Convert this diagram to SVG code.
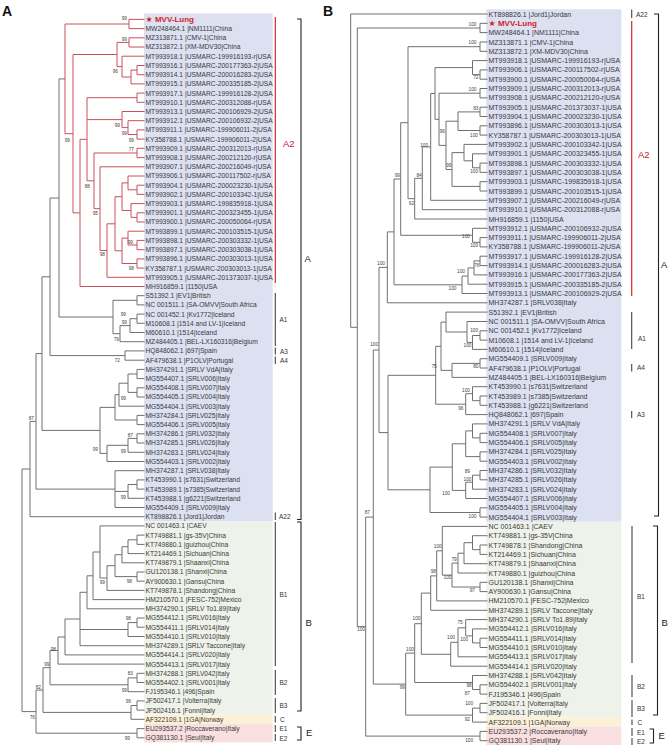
<svg xmlns="http://www.w3.org/2000/svg" width="669" height="745" viewBox="0 0 669 745">
<style>
.t{font-family:"Liberation Sans","DejaVu Sans",Arial,sans-serif;fill:#3a3a3a}
.la{font-size:6.7px}
.lb{font-size:7px}
.bs{font-family:"Liberation Sans",Arial,sans-serif;font-size:4.8px;fill:#444;text-anchor:end}
.g{fill:none;stroke:#707070;stroke-width:1}
.r{fill:none;stroke:#c9505d;stroke-width:1}
.bar{stroke:#444;stroke-width:1.1}
.rbar{stroke:#d42a2a;stroke-width:1.2}
.brk{fill:none;stroke:#222;stroke-width:1.1}
.cl{font-family:"Liberation Sans",Arial,sans-serif;font-size:6.5px;fill:#333}
.big{font-family:"Liberation Sans",Arial,sans-serif;font-size:9.5px;fill:#222}
.red{fill:#c0202a}
.mvv{font-family:"Liberation Sans","DejaVu Sans",sans-serif;font-size:8px;font-weight:bold;fill:#d3202a}
.pl{font-family:"Liberation Sans",Arial,sans-serif;font-size:14px;font-weight:bold;fill:#111}
</style>
<rect width="669" height="745" fill="#fff"/>
<g id="backgrounds">
<rect x="144" y="13.5" width="128.7" height="508" fill="#dce0f1"/>
<rect x="144" y="521.5" width="128.7" height="193.2" fill="#eef2ea"/>
<rect x="144" y="714.7" width="128.7" height="9.2" fill="#fcf1d7"/>
<rect x="144" y="723.9" width="128.7" height="18.5" fill="#f9dfe0"/>
<rect x="486.3" y="9.3" width="135" height="512.5" fill="#dce0f1"/>
<rect x="486.3" y="521.8" width="135" height="195.6" fill="#eef2ea"/>
<rect x="486.3" y="717.4" width="135" height="9.3" fill="#fcf1d7"/>
<rect x="486.3" y="726.7" width="135" height="18.3" fill="#f9dfe0"/>
</g>
<text class="pl" x="2" y="15.5">A</text>
<text class="pl" x="323" y="15.5">B</text>
<g id="connectors">
<path class="r" d="M144.5 19.4H129V28.6H144.5M144.5 37.8H129V47H144.5M144.5 65.5H137V74.7H144.5M137 70.1H131V83.9H144.5M144.5 56.2H122V77H131M129 42.4H117V66.6H122M144.5 93.1H137V102.3H144.5M144.5 129.9H137V139.1H144.5M144.5 120.7H128V134.5H137M144.5 111.5H122V127.6H128M144.5 148.3H137V157.6H144.5M144.5 185.2H137V194.4H144.5M144.5 176H128V189.8H137M144.5 212.8H137V222H144.5M144.5 203.6H131V217.4H137M128 182.9H122V210.5H131M144.5 240.4H137V249.7H144.5M144.5 231.2H128V245H137M144.5 258.9H137V268.1H144.5M128 238.1H122V263.5H137M122 196.7H115V250.8H122M115 223.8H107V277.3H144.5M144.5 166.8H100V250.5H107M137 153H94V208.7H100M137 97.7H87V180.8H94M87 119.6H122M87 139.3H80V286.5H144.5M117 54.5H73V212.9H80M129 24H65V133.7H73"/>
<path class="g" d="M144.5 295.7H137V304.9H144.5M144.5 314.1H137V323.3H144.5M137 318.7H130V332.5H144.5M130 325.6H120V341.7H144.5M137 300.3H113V333.7H120M65 78.9H59V317H113M144.5 350.9H125V360.2H144.5M59 198H50V355.6H125M144.5 369.4H137V378.6H144.5M144.5 387.8H137V397H144.5M137 374H128V392.4H137M128 383.2H119V406.2H144.5M144.5 415.4H137V424.6H144.5M119 394.7H115V420H137M144.5 433.8H137V443H144.5M137 438.4H128V452.3H144.5M128 445.3H107V461.5H144.5M115 407.4H100V453.4H107M50 276.8H42V430.4H100M144.5 479.9H137V489.1H144.5M137 484.5H128V498.3H144.5M144.5 470.7H115V507.5H144.5M115 491.4H128M42 353.6H36V489.1H115M36 421.4H30V516.7H144.5"/>
<path class="g" d="M144.5 535.1H137V544.4H144.5M137 539.8H128V553.6H144.5M128 546.7H122V562.8H144.5M144.5 572H137V581.2H144.5M122 554.7H115V576.6H137M115 565.7H107V590.4H144.5M144.5 525.9H100V578H107M100 552H93V599.6H144.5M93 575.8H87V608.8H144.5M144.5 618H137V627.2H144.5M137 622.6H128V636.5H144.5M87 592.3H80V645.7H144.5M80 629.5H128M80 619H65V654.9H144.5M65 637H58V664.1H144.5M144.5 673.3H137V682.5H144.5M137 677.9H128V691.7H144.5M58 650.5H50V684.8H128M144.5 700.9H137V710.1H144.5M137 705.5H131V719.3H144.5M50 667.7H43V712.4H131M144.5 728.6H137V737.8H144.5M43 690.1H36V733.2H137M30 469H22V711.6H36"/>
<path class="g" d="M487.5 23.3H480V32.6H487.5M487.5 42H480V51.3H487.5M487.5 69.9H480V79.2H487.5M487.5 60.6H472.5V74.6H480M487.5 88.5H480V97.9H487.5M487.5 107.2H480V116.5H487.5M487.5 125.8H480V135.1H487.5M480 111.9H458V130.5H480M487.5 163.1H480V172.4H487.5M487.5 153.8H472.5V167.8H480M487.5 144.4H464V160.8H472.5M487.5 181.7H480V191H487.5M464 152.6H452V186.4H480M458 121.2H446V169.5H452M480 93.2H439V145.4H446M472.5 67.6H435V119.3H439M435 93.5H430.7V200.3H487.5M430.7 146.9H422.3V209.7H487.5M422.3 178.3H414.7V219H487.5M480 46.7H408V198.7H414.7M487.5 237.6H480V246.9H487.5M487.5 228.3H472.5V242.3H480M408 122.7H400.7V235.3H472.5M487.5 256.2H480V265.6H487.5M480 260.9H474V274.9H487.5M474 267.9H468V284.2H487.5M468 276.1H462V293.5H487.5M400.7 179H394V284.8H462M394 231.9H387.3V302.8H487.5"/>
<path class="g" d="M487.5 330.8H480V340.1H487.5M480 335.5H472.5V349.4H487.5M487.5 321.5H467V342.4H472.5M487.5 312.1H446V332H467M487.5 358.7H480V368H487.5M480 363.4H452V377.4H487.5M446 322.1H441V370.4H452M487.5 396H480V405.3H487.5M487.5 386.7H472.5V400.7H480M472.5 393.7H465.7V414.6H487.5M441 346.3H435.7V404.2H465.7M487.5 433.3H480V442.6H487.5M487.5 423.9H472.5V437.9H480M487.5 451.9H480V461.2H487.5M472.5 430.9H465.7V456.6H480M487.5 470.5H480V479.8H487.5M480 475.2H472.5V489.2H487.5M472.5 482.2H465.7V498.5H487.5M465.7 443.8H452.3V490.4H465.7M487.5 507.8H480V517.1H487.5M452.3 467.1H430V512.5H480M435.7 375.3H388V489.8H430M387.3 267.4H379V432.6H388"/>
<path class="g" d="M487.5 545H480V554.4H487.5M487.5 535.7H472.5V549.7H480M472.5 542.7H464V563.7H487.5M464 553.2H458V573H487.5M487.5 582.3H480V591.6H487.5M458 563.1H452V587H480M487.5 526.4H442.3V575.1H452M442.3 550.8H436.7V600.9H487.5M436.7 575.9H430.7V610.3H487.5M487.5 638.2H480V647.5H487.5M487.5 628.9H472.5V642.9H480M487.5 619.6H465.7V635.9H472.5M465.7 627.8H458V656.8H487.5M458 642.3H450.7V666.2H487.5M430.7 593.1H421.3V654.3H450.7M487.5 684.8H480V694.1H487.5M487.5 675.5H472.5V689.5H480M421.3 623.7H414.7V682.5H472.5M487.5 703.4H480V712.7H487.5M480 708.1H472.5V722.1H487.5M414.7 653.1H405.7V715.1H472.5M379 350H373.3V684.1H405.7M487.5 731.4H480V740.7H487.5M373.3 517.1H365.7V736.1H480M480 28H357.3V626.6H365.7M487.5 14H350.7V327.3H357.3"/>
</g>
<g id="support-A">
<text class="bs" x="127" y="19.7">99</text><text class="bs" x="127" y="40.7">99</text><text class="bs" x="118" y="72.7">96</text><text class="bs" x="70" y="141.7">99</text><text class="bs" x="120" y="127.2">99</text><text class="bs" x="127" y="134.7">99</text><text class="bs" x="134" y="141.7">99</text><text class="bs" x="134" y="150.7">77</text><text class="bs" x="90" y="187.7">88</text><text class="bs" x="98" y="214.7">95</text><text class="bs" x="133" y="243.7">99</text><text class="bs" x="105" y="256.2">98</text><text class="bs" x="134" y="269.7">98</text><text class="bs" x="126" y="315.7">99</text><text class="bs" x="127" y="323.7">99</text><text class="bs" x="119" y="340.7">79</text><text class="bs" x="120" y="361.7">72</text><text class="bs" x="126" y="399.7">99</text><text class="bs" x="133" y="436.7">87</text><text class="bs" x="126" y="452.7">99</text><text class="bs" x="98" y="450.7">99</text><text class="bs" x="34" y="420">87</text><text class="bs" x="126" y="498.7">99</text><text class="bs" x="105" y="583.7">99</text><text class="bs" x="132" y="582.7">98</text><text class="bs" x="131" y="619.7">98</text><text class="bs" x="56" y="650.7">98</text><text class="bs" x="49.5" y="665.7">99</text><text class="bs" x="133" y="674.7">83</text><text class="bs" x="41" y="688.7">82</text><text class="bs" x="127" y="691.7">99</text><text class="bs" x="131" y="702.7">99</text><text class="bs" x="35" y="718.7">76</text><text class="bs" x="130" y="739.7">99</text>
</g>
<g id="support-B">
<text class="bs" x="476.5" y="25.7">100</text><text class="bs" x="476.5" y="44.4">100</text><text class="bs" x="478.5" y="78.7">72</text><text class="bs" x="476.5" y="91">100</text><text class="bs" x="478.5" y="110">83</text><text class="bs" x="445" y="132.7">96</text><text class="bs" x="478" y="137.4">100</text><text class="bs" x="428.2" y="147.4">100</text><text class="bs" x="451.5" y="167.4">99</text><text class="bs" x="478.2" y="173.4">100</text><text class="bs" x="421.8" y="177.4">84</text><text class="bs" x="400" y="177.4">99</text><text class="bs" x="414.2" y="205">92</text><text class="bs" x="470" y="238.4">100</text><text class="bs" x="478.2" y="247.4">100</text><text class="bs" x="385" y="265">100</text><text class="bs" x="479.5" y="266.7">76</text><text class="bs" x="465" y="273.4">100</text><text class="bs" x="456.5" y="289.7">100</text><text class="bs" x="478.2" y="331.7">100</text><text class="bs" x="471.5" y="346.7">100</text><text class="bs" x="378.2" y="346">100</text><text class="bs" x="436.8" y="367.7">75</text><text class="bs" x="478.5" y="368.4">80</text><text class="bs" x="470" y="391.7">100</text><text class="bs" x="463.5" y="410">96</text><text class="bs" x="470" y="473.4">89</text><text class="bs" x="471.5" y="480.7">100</text><text class="bs" x="450" y="495">100</text><text class="bs" x="476.5" y="518.4">100</text><text class="bs" x="370" y="514.4">87</text><text class="bs" x="441.8" y="548.4">100</text><text class="bs" x="456.8" y="561">79</text><text class="bs" x="451.5" y="579">100</text><text class="bs" x="436" y="573.4">98</text><text class="bs" x="475" y="591.7">97</text><text class="bs" x="420.5" y="620">100</text><text class="bs" x="462.8" y="624.4">75</text><text class="bs" x="365" y="631">100</text><text class="bs" x="455" y="639.4">100</text><text class="bs" x="468.2" y="640.7">100</text><text class="bs" x="414" y="651">100</text><text class="bs" x="471.8" y="687.4">98</text><text class="bs" x="470" y="695">87</text><text class="bs" x="405" y="689.4">99</text><text class="bs" x="473.2" y="705">100</text><text class="bs" x="470" y="720.7">92</text><text class="bs" x="473.2" y="742.4">100</text>
</g>
<g id="leaves-A">
<g id="a01"><text class="mvv" x="145.5" y="22.3">★ MVV-Lung</text></g>
<g id="a02"><text class="t la" x="145.5" y="31">MW248464.1 |NM1111|China</text></g>
<g id="a03"><text class="t la" x="145.5" y="40.2">MZ313871.1 |CMV-1|China</text></g>
<g id="a04"><text class="t la" x="145.5" y="49.4">MZ313872.1 |XM-MDV30|China</text></g>
<g id="a05"><text class="t la" x="145.5" y="58.6">MT993918.1 |USMARC-199916193-r|USA</text></g>
<g id="a06"><text class="t la" x="145.5" y="67.9">MT993916.1 |USMARC-200177363-2|USA</text></g>
<g id="a07"><text class="t la" x="145.5" y="77.1">MT993914.1 |USMARC-200016283-2|USA</text></g>
<g id="a08"><text class="t la" x="145.5" y="86.3">MT993915.1 |USMARC-200335185-2|USA</text></g>
<g id="a09"><text class="t la" x="145.5" y="95.5">MT993917.1 |USMARC-199916128-2|USA</text></g>
<g id="a10"><text class="t la" x="145.5" y="104.7">MT993910.1 |USMARC-200312088-r|USA</text></g>
<g id="a11"><text class="t la" x="145.5" y="113.9">MT993913.1 |USMARC-200106929-2|USA</text></g>
<g id="a12"><text class="t la" x="145.5" y="123.1">MT993912.1 |USMARC-200106932-2|USA</text></g>
<g id="a13"><text class="t la" x="145.5" y="132.3">MT993911.1 |USMARC-199906011-2|USA</text></g>
<g id="a14"><text class="t la" x="145.5" y="141.5">KY358788.1 |USMARC-199906011-2|USA</text></g>
<g id="a15"><text class="t la" x="145.5" y="150.7">MT993909.1 |USMARC-200312013-r|USA</text></g>
<g id="a16"><text class="t la" x="145.5" y="160">MT993908.1 |USMARC-200212120-r|USA</text></g>
<g id="a17"><text class="t la" x="145.5" y="169.2">MT993907.1 |USMARC-200216049-r|USA</text></g>
<g id="a18"><text class="t la" x="145.5" y="178.4">MT993906.1 |USMARC-200117502-r|USA</text></g>
<g id="a19"><text class="t la" x="145.5" y="187.6">MT993904.1 |USMARC-200023230-1|USA</text></g>
<g id="a20"><text class="t la" x="145.5" y="196.8">MT993902.1 |USMARC-200103342-1|USA</text></g>
<g id="a21"><text class="t la" x="145.5" y="206">MT993903.1 |USMARC-199835918-1|USA</text></g>
<g id="a22"><text class="t la" x="145.5" y="215.2">MT993901.1 |USMARC-200323455-1|USA</text></g>
<g id="a23"><text class="t la" x="145.5" y="224.4">MT993900.1 |USMARC-200050064-r|USA</text></g>
<g id="a24"><text class="t la" x="145.5" y="233.6">MT993899.1 |USMARC-200103515-1|USA</text></g>
<g id="a25"><text class="t la" x="145.5" y="242.8">MT993898.1 |USMARC-200303332-1|USA</text></g>
<g id="a26"><text class="t la" x="145.5" y="252.1">MT993897.1 |USMARC-200303038-1|USA</text></g>
<g id="a27"><text class="t la" x="145.5" y="261.3">MT993896.1 |USMARC-200303013-1|USA</text></g>
<g id="a28"><text class="t la" x="145.5" y="270.5">KY358787.1 |USMARC-200303013-1|USA</text></g>
<g id="a29"><text class="t la" x="145.5" y="279.7">MT993905.1 |USMARC-201373037-1|USA</text></g>
<g id="a30"><text class="t la" x="145.5" y="288.9">MH916859.1 |1150|USA</text></g>
<g id="a31"><text class="t la" x="145.5" y="298.1">S51392.1 |EV1|British</text></g>
<g id="a32"><text class="t la" x="145.5" y="307.3">NC 001511.1 |SA-OMVV|South Africa</text></g>
<g id="a33"><text class="t la" x="145.5" y="316.5">NC 001452.1 |Kv1772|Iceland</text></g>
<g id="a34"><text class="t la" x="145.5" y="325.7">M10608.1 |1514 and LV-1|Iceland</text></g>
<g id="a35"><text class="t la" x="145.5" y="334.9">M60610.1 |1514|Iceland</text></g>
<g id="a36"><text class="t la" x="145.5" y="344.1">MZ484405.1 |BEL-LX160316|Belgium</text></g>
<g id="a37"><text class="t la" x="145.5" y="353.3">HQ848062.1 |697|Spain</text></g>
<g id="a38"><text class="t la" x="145.5" y="362.6">AF479638.1 |P1OLV|Portugal</text></g>
<g id="a39"><text class="t la" x="145.5" y="371.8">MH374291.1 |SRLV VdA|Italy</text></g>
<g id="a40"><text class="t la" x="145.5" y="381">MG554407.1 |SRLV006|Italy</text></g>
<g id="a41"><text class="t la" x="145.5" y="390.2">MG554408.1 |SRLV007|Italy</text></g>
<g id="a42"><text class="t la" x="145.5" y="399.4">MG554405.1 |SRLV004|Italy</text></g>
<g id="a43"><text class="t la" x="145.5" y="408.6">MG554404.1 |SRLV003|Italy</text></g>
<g id="a44"><text class="t la" x="145.5" y="417.8">MH374284.1 |SRLV025|Italy</text></g>
<g id="a45"><text class="t la" x="145.5" y="427">MG554406.1 |SRLV005|Italy</text></g>
<g id="a46"><text class="t la" x="145.5" y="436.2">MH374286.1 |SRLV032|Italy</text></g>
<g id="a47"><text class="t la" x="145.5" y="445.4">MH374285.1 |SRLV026|Italy</text></g>
<g id="a48"><text class="t la" x="145.5" y="454.7">MH374283.1 |SRLV024|Italy</text></g>
<g id="a49"><text class="t la" x="145.5" y="463.9">MG554403.1 |SRLV002|Italy</text></g>
<g id="a50"><text class="t la" x="145.5" y="473.1">MH374287.1 |SRLV038|Italy</text></g>
<g id="a51"><text class="t la" x="145.5" y="482.3">KT453990.1 |s7631|Switzerland</text></g>
<g id="a52"><text class="t la" x="145.5" y="491.5">KT453989.1 |s7385|Switzerland</text></g>
<g id="a53"><text class="t la" x="145.5" y="500.7">KT453988.1 |g6221|Switzerland</text></g>
<g id="a54"><text class="t la" x="145.5" y="509.9">MG554409.1 |SRLV009|Italy</text></g>
<g id="a55"><text class="t la" x="145.5" y="519.1">KT898826.1 |Jord1|Jordan</text></g>
<g id="a56"><text class="t la" x="145.5" y="528.3">NC 001463.1 |CAEV</text></g>
<g id="a57"><text class="t la" x="145.5" y="537.5">KT749881.1 |gs-35V|China</text></g>
<g id="a58"><text class="t la" x="145.5" y="546.8">KT749880.1 |guizhou|China</text></g>
<g id="a59"><text class="t la" x="145.5" y="556">KT214469.1 |Sichuan|China</text></g>
<g id="a60"><text class="t la" x="145.5" y="565.2">KT749879.1 |Shaanxi|China</text></g>
<g id="a61"><text class="t la" x="145.5" y="574.4">GU120138.1 |Shanxi|China</text></g>
<g id="a62"><text class="t la" x="145.5" y="583.6">AY900630.1 |Gansu|China</text></g>
<g id="a63"><text class="t la" x="145.5" y="592.8">KT749878.1 |Shandong|China</text></g>
<g id="a64"><text class="t la" x="145.5" y="602">HM210570.1 |FESC-752|Mexico</text></g>
<g id="a65"><text class="t la" x="145.5" y="611.2">MH374290.1 |SRLV To1.89|Italy</text></g>
<g id="a66"><text class="t la" x="145.5" y="620.4">MG554412.1 |SRLV016|Italy</text></g>
<g id="a67"><text class="t la" x="145.5" y="629.6">MG554411.1 |SRLV014|Italy</text></g>
<g id="a68"><text class="t la" x="145.5" y="638.9">MG554410.1 |SRLV010|Italy</text></g>
<g id="a69"><text class="t la" x="145.5" y="648.1">MH374289.1 |SRLV Taccone|Italy</text></g>
<g id="a70"><text class="t la" x="145.5" y="657.3">MG554414.1 |SRLV020|Italy</text></g>
<g id="a71"><text class="t la" x="145.5" y="666.5">MG554413.1 |SRLV017|Italy</text></g>
<g id="a72"><text class="t la" x="145.5" y="675.7">MH374288.1 |SRLV042|Italy</text></g>
<g id="a73"><text class="t la" x="145.5" y="684.9">MG554402.1 |SRLV001|Italy</text></g>
<g id="a74"><text class="t la" x="145.5" y="694.1">FJ195346.1 |496|Spain</text></g>
<g id="a75"><text class="t la" x="145.5" y="703.3">JF502417.1 |Volterra|Italy</text></g>
<g id="a76"><text class="t la" x="145.5" y="712.5">JF502416.1 |Fonni|Italy</text></g>
<g id="a77"><text class="t la" x="145.5" y="721.7">AF322109.1 |1GA|Norway</text></g>
<g id="a78"><text class="t la" x="145.5" y="731">EU293537.2 |Roccaverano|Italy</text></g>
<g id="a79"><text class="t la" x="145.5" y="740.2">GQ381130.1 |Seui|Italy</text></g>
</g>
<g id="leaves-B">
<g id="b01"><text class="t lb" x="488.5" y="16.5">KT898826.1 |Jord1|Jordan</text></g>
<g id="b02"><text class="mvv" x="488.5" y="26.2">★ MVV-Lung</text></g>
<g id="b03"><text class="t lb" x="488.5" y="35.1">MW248464.1 |NM1111|China</text></g>
<g id="b04"><text class="t lb" x="488.5" y="44.5">MZ313871.1 |CMV-1|China</text></g>
<g id="b05"><text class="t lb" x="488.5" y="53.8">MZ313872.1 |XM-MDV30|China</text></g>
<g id="b06"><text class="t lb" x="488.5" y="63.1">MT993918.1 |USMARC-199916193-r|USA</text></g>
<g id="b07"><text class="t lb" x="488.5" y="72.4">MT993906.1 |USMARC-200117502-r|USA</text></g>
<g id="b08"><text class="t lb" x="488.5" y="81.7">MT993900.1 |USMARC-200050064-r|USA</text></g>
<g id="b09"><text class="t lb" x="488.5" y="91">MT993909.1 |USMARC-200312013-r|USA</text></g>
<g id="b10"><text class="t lb" x="488.5" y="100.4">MT993908.1 |USMARC-200212120-r|USA</text></g>
<g id="b11"><text class="t lb" x="488.5" y="109.7">MT993905.1 |USMARC-201373037-1|USA</text></g>
<g id="b12"><text class="t lb" x="488.5" y="119">MT993904.1 |USMARC-200023230-1|USA</text></g>
<g id="b13"><text class="t lb" x="488.5" y="128.3">MT993896.1 |USMARC-200303013-1|USA</text></g>
<g id="b14"><text class="t lb" x="488.5" y="137.6">KY358787.1 |USMARC-200303013-1|USA</text></g>
<g id="b15"><text class="t lb" x="488.5" y="146.9">MT993902.1 |USMARC-200103342-1|USA</text></g>
<g id="b16"><text class="t lb" x="488.5" y="156.3">MT993901.1 |USMARC-200323455-1|USA</text></g>
<g id="b17"><text class="t lb" x="488.5" y="165.6">MT993898.1 |USMARC-200303332-1|USA</text></g>
<g id="b18"><text class="t lb" x="488.5" y="174.9">MT993897.1 |USMARC-200303038-1|USA</text></g>
<g id="b19"><text class="t lb" x="488.5" y="184.2">MT993903.1 |USMARC-199835918-1|USA</text></g>
<g id="b20"><text class="t lb" x="488.5" y="193.5">MT993899.1 |USMARC-200103515-1|USA</text></g>
<g id="b21"><text class="t lb" x="488.5" y="202.8">MT993907.1 |USMARC-200216049-r|USA</text></g>
<g id="b22"><text class="t lb" x="488.5" y="212.2">MT993910.1 |USMARC-200312088-r|USA</text></g>
<g id="b23"><text class="t lb" x="488.5" y="221.5">MH916859.1 |1150|USA</text></g>
<g id="b24"><text class="t lb" x="488.5" y="230.8">MT993912.1 |USMARC-200106932-2|USA</text></g>
<g id="b25"><text class="t lb" x="488.5" y="240.1">MT993911.1 |USMARC-199906011-2|USA</text></g>
<g id="b26"><text class="t lb" x="488.5" y="249.4">KY358788.1 |USMARC-199906011-2|USA</text></g>
<g id="b27"><text class="t lb" x="488.5" y="258.7">MT993917.1 |USMARC-199916128-2|USA</text></g>
<g id="b28"><text class="t lb" x="488.5" y="268.1">MT993914.1 |USMARC-200016283-2|USA</text></g>
<g id="b29"><text class="t lb" x="488.5" y="277.4">MT993916.1 |USMARC-200177363-2|USA</text></g>
<g id="b30"><text class="t lb" x="488.5" y="286.7">MT993915.1 |USMARC-200335185-2|USA</text></g>
<g id="b31"><text class="t lb" x="488.5" y="296">MT993913.1 |USMARC-200106929-2|USA</text></g>
<g id="b32"><text class="t lb" x="488.5" y="305.3">MH374287.1 |SRLV038|Italy</text></g>
<g id="b33"><text class="t lb" x="488.5" y="314.6">S51392.1 |EV1|British</text></g>
<g id="b34"><text class="t lb" x="488.5" y="324">NC 001511.1 |SA-OMVV|South Africa</text></g>
<g id="b35"><text class="t lb" x="488.5" y="333.3">NC 001452.1 |Kv1772|Iceland</text></g>
<g id="b36"><text class="t lb" x="488.5" y="342.6">M10608.1 |1514 and LV-1|Iceland</text></g>
<g id="b37"><text class="t lb" x="488.5" y="351.9">M60610.1 |1514|Iceland</text></g>
<g id="b38"><text class="t lb" x="488.5" y="361.2">MG554409.1 |SRLV009|Italy</text></g>
<g id="b39"><text class="t lb" x="488.5" y="370.5">AF479638.1 |P1OLV|Portugal</text></g>
<g id="b40"><text class="t lb" x="488.5" y="379.9">MZ484405.1 |BEL-LX160316|Belgium</text></g>
<g id="b41"><text class="t lb" x="488.5" y="389.2">KT453990.1 |s7631|Switzerland</text></g>
<g id="b42"><text class="t lb" x="488.5" y="398.5">KT453989.1 |s7385|Switzerland</text></g>
<g id="b43"><text class="t lb" x="488.5" y="407.8">KT453988.1 |g6221|Switzerland</text></g>
<g id="b44"><text class="t lb" x="488.5" y="417.1">HQ848062.1 |697|Spain</text></g>
<g id="b45"><text class="t lb" x="488.5" y="426.4">MH374291.1 |SRLV VdA|Italy</text></g>
<g id="b46"><text class="t lb" x="488.5" y="435.8">MG554408.1 |SRLV007|Italy</text></g>
<g id="b47"><text class="t lb" x="488.5" y="445.1">MG554406.1 |SRLV005|Italy</text></g>
<g id="b48"><text class="t lb" x="488.5" y="454.4">MH374284.1 |SRLV025|Italy</text></g>
<g id="b49"><text class="t lb" x="488.5" y="463.7">MG554403.1 |SRLV002|Italy</text></g>
<g id="b50"><text class="t lb" x="488.5" y="473">MH374286.1 |SRLV032|Italy</text></g>
<g id="b51"><text class="t lb" x="488.5" y="482.3">MH374285.1 |SRLV026|Italy</text></g>
<g id="b52"><text class="t lb" x="488.5" y="491.7">MH374283.1 |SRLV024|Italy</text></g>
<g id="b53"><text class="t lb" x="488.5" y="501">MG554407.1 |SRLV006|Italy</text></g>
<g id="b54"><text class="t lb" x="488.5" y="510.3">MG554405.1 |SRLV004|Italy</text></g>
<g id="b55"><text class="t lb" x="488.5" y="519.6">MG554404.1 |SRLV003|Italy</text></g>
<g id="b56"><text class="t lb" x="488.5" y="528.9">NC 001463.1 |CAEV</text></g>
<g id="b57"><text class="t lb" x="488.5" y="538.2">KT749881.1 |gs-35V|China</text></g>
<g id="b58"><text class="t lb" x="488.5" y="547.5">KT749878.1 |Shandong|China</text></g>
<g id="b59"><text class="t lb" x="488.5" y="556.9">KT214469.1 |Sichuan|China</text></g>
<g id="b60"><text class="t lb" x="488.5" y="566.2">KT749879.1 |Shaanxi|China</text></g>
<g id="b61"><text class="t lb" x="488.5" y="575.5">KT749880.1 |guizhou|China</text></g>
<g id="b62"><text class="t lb" x="488.5" y="584.8">GU120138.1 |Shanxi|China</text></g>
<g id="b63"><text class="t lb" x="488.5" y="594.1">AY900630.1 |Gansu|China</text></g>
<g id="b64"><text class="t lb" x="488.5" y="603.4">HM210570.1 |FESC-752|Mexico</text></g>
<g id="b65"><text class="t lb" x="488.5" y="612.8">MH374289.1 |SRLV Taccone|Italy</text></g>
<g id="b66"><text class="t lb" x="488.5" y="622.1">MH374290.1 |SRLV To1.89|Italy</text></g>
<g id="b67"><text class="t lb" x="488.5" y="631.4">MG554412.1 |SRLV016|Italy</text></g>
<g id="b68"><text class="t lb" x="488.5" y="640.7">MG554411.1 |SRLV014|Italy</text></g>
<g id="b69"><text class="t lb" x="488.5" y="650">MG554410.1 |SRLV010|Italy</text></g>
<g id="b70"><text class="t lb" x="488.5" y="659.3">MG554413.1 |SRLV017|Italy</text></g>
<g id="b71"><text class="t lb" x="488.5" y="668.7">MG554414.1 |SRLV020|Italy</text></g>
<g id="b72"><text class="t lb" x="488.5" y="678">MH374288.1 |SRLV042|Italy</text></g>
<g id="b73"><text class="t lb" x="488.5" y="687.3">MG554402.1 |SRLV001|Italy</text></g>
<g id="b74"><text class="t lb" x="488.5" y="696.6">FJ195346.1 |496|Spain</text></g>
<g id="b75"><text class="t lb" x="488.5" y="705.9">JF502417.1 |Volterra|Italy</text></g>
<g id="b76"><text class="t lb" x="488.5" y="715.2">JF502416.1 |Fonni|Italy</text></g>
<g id="b77"><text class="t lb" x="488.5" y="724.6">AF322109.1 |1GA|Norway</text></g>
<g id="b78"><text class="t lb" x="488.5" y="733.9">EU293537.2 |Roccaverano|Italy</text></g>
<g id="b79"><text class="t lb" x="488.5" y="743.2">GQ381130.1 |Seui|Italy</text></g>
</g>
<g id="groups-A">
<line class="rbar" x1="275.3" y1="17" x2="275.3" y2="283"/>
<text class="big red" x="283" y="146.5">A2</text>
<line class="bar" x1="275.3" y1="293" x2="275.3" y2="346"/><text class="cl" x="279.5" y="321.5">A1</text>
<line class="bar" x1="275.3" y1="347.5" x2="275.3" y2="354.5"/><text class="cl" x="280" y="353.5">A3</text>
<line class="bar" x1="275.3" y1="356.5" x2="275.3" y2="364"/><text class="cl" x="280" y="362.5">A4</text>
<line class="bar" x1="275.3" y1="512.5" x2="275.3" y2="520"/><text class="cl" x="279" y="519">A22</text>
<line class="bar" x1="275.3" y1="522" x2="275.3" y2="666"/><text class="cl" x="279.5" y="597">B1</text>
<line class="bar" x1="275.3" y1="670" x2="275.3" y2="695"/><text class="cl" x="279.5" y="685">B2</text>
<line class="bar" x1="275.3" y1="698" x2="275.3" y2="713"/><text class="cl" x="279.5" y="707.5">B3</text>
<line class="bar" x1="275.3" y1="716" x2="275.3" y2="722.5"/><text class="cl" x="280" y="722">C</text>
<line class="bar" x1="275.3" y1="725" x2="275.3" y2="732"/><text class="cl" x="279.5" y="731">E1</text>
<line class="bar" x1="275.3" y1="734" x2="275.3" y2="741"/><text class="cl" x="279.5" y="740.5">E2</text>
<path class="brk" d="M297 19H301V519.5H297"/><text class="big" x="304.5" y="262">A</text>
<path class="brk" d="M297 522H301V711H297"/><text class="big" x="305.5" y="626">B</text>
<path class="brk" d="M297 727H301V740H297"/><text class="big" x="306" y="736">E</text>
</g>
<g id="groups-B">
<line class="bar" x1="631.7" y1="9.5" x2="631.7" y2="18"/><text class="cl" x="636" y="16.5">A22</text>
<line class="rbar" x1="631.7" y1="21" x2="631.7" y2="296"/>
<text class="big red" x="638" y="157.5">A2</text>
<line class="bar" x1="631.7" y1="312" x2="631.7" y2="349"/><text class="cl" x="638" y="341">A1</text>
<line class="bar" x1="631.7" y1="364" x2="631.7" y2="371.5"/><text class="cl" x="637" y="370">A4</text>
<line class="bar" x1="631.7" y1="411" x2="631.7" y2="418"/><text class="cl" x="637" y="416.5">A3</text>
<path class="brk" d="M654 14H658.5V516H654"/><text class="big" x="661" y="268">A</text>
<line class="bar" x1="632" y1="526" x2="632" y2="663"/><text class="cl" x="637" y="599">B1</text>
<line class="bar" x1="632" y1="675" x2="632" y2="697"/><text class="cl" x="637" y="689">B2</text>
<line class="bar" x1="632" y1="700" x2="632" y2="717"/><text class="cl" x="637" y="711">B3</text>
<line class="bar" x1="632" y1="719.5" x2="632" y2="725"/><text class="cl" x="637.5" y="724.5">C</text>
<line class="bar" x1="632" y1="728" x2="632" y2="736"/><text class="cl" x="637" y="734.5">E1</text>
<line class="bar" x1="632" y1="738" x2="632" y2="745"/><text class="cl" x="637" y="744">E2</text>
<path class="brk" d="M653 526H657.5V715H653"/><text class="big" x="661.5" y="626">B</text>
<path class="brk" d="M649.5 729H653.5V743H649.5"/><text class="big" x="658.5" y="739">E</text>
</g>
</svg>
